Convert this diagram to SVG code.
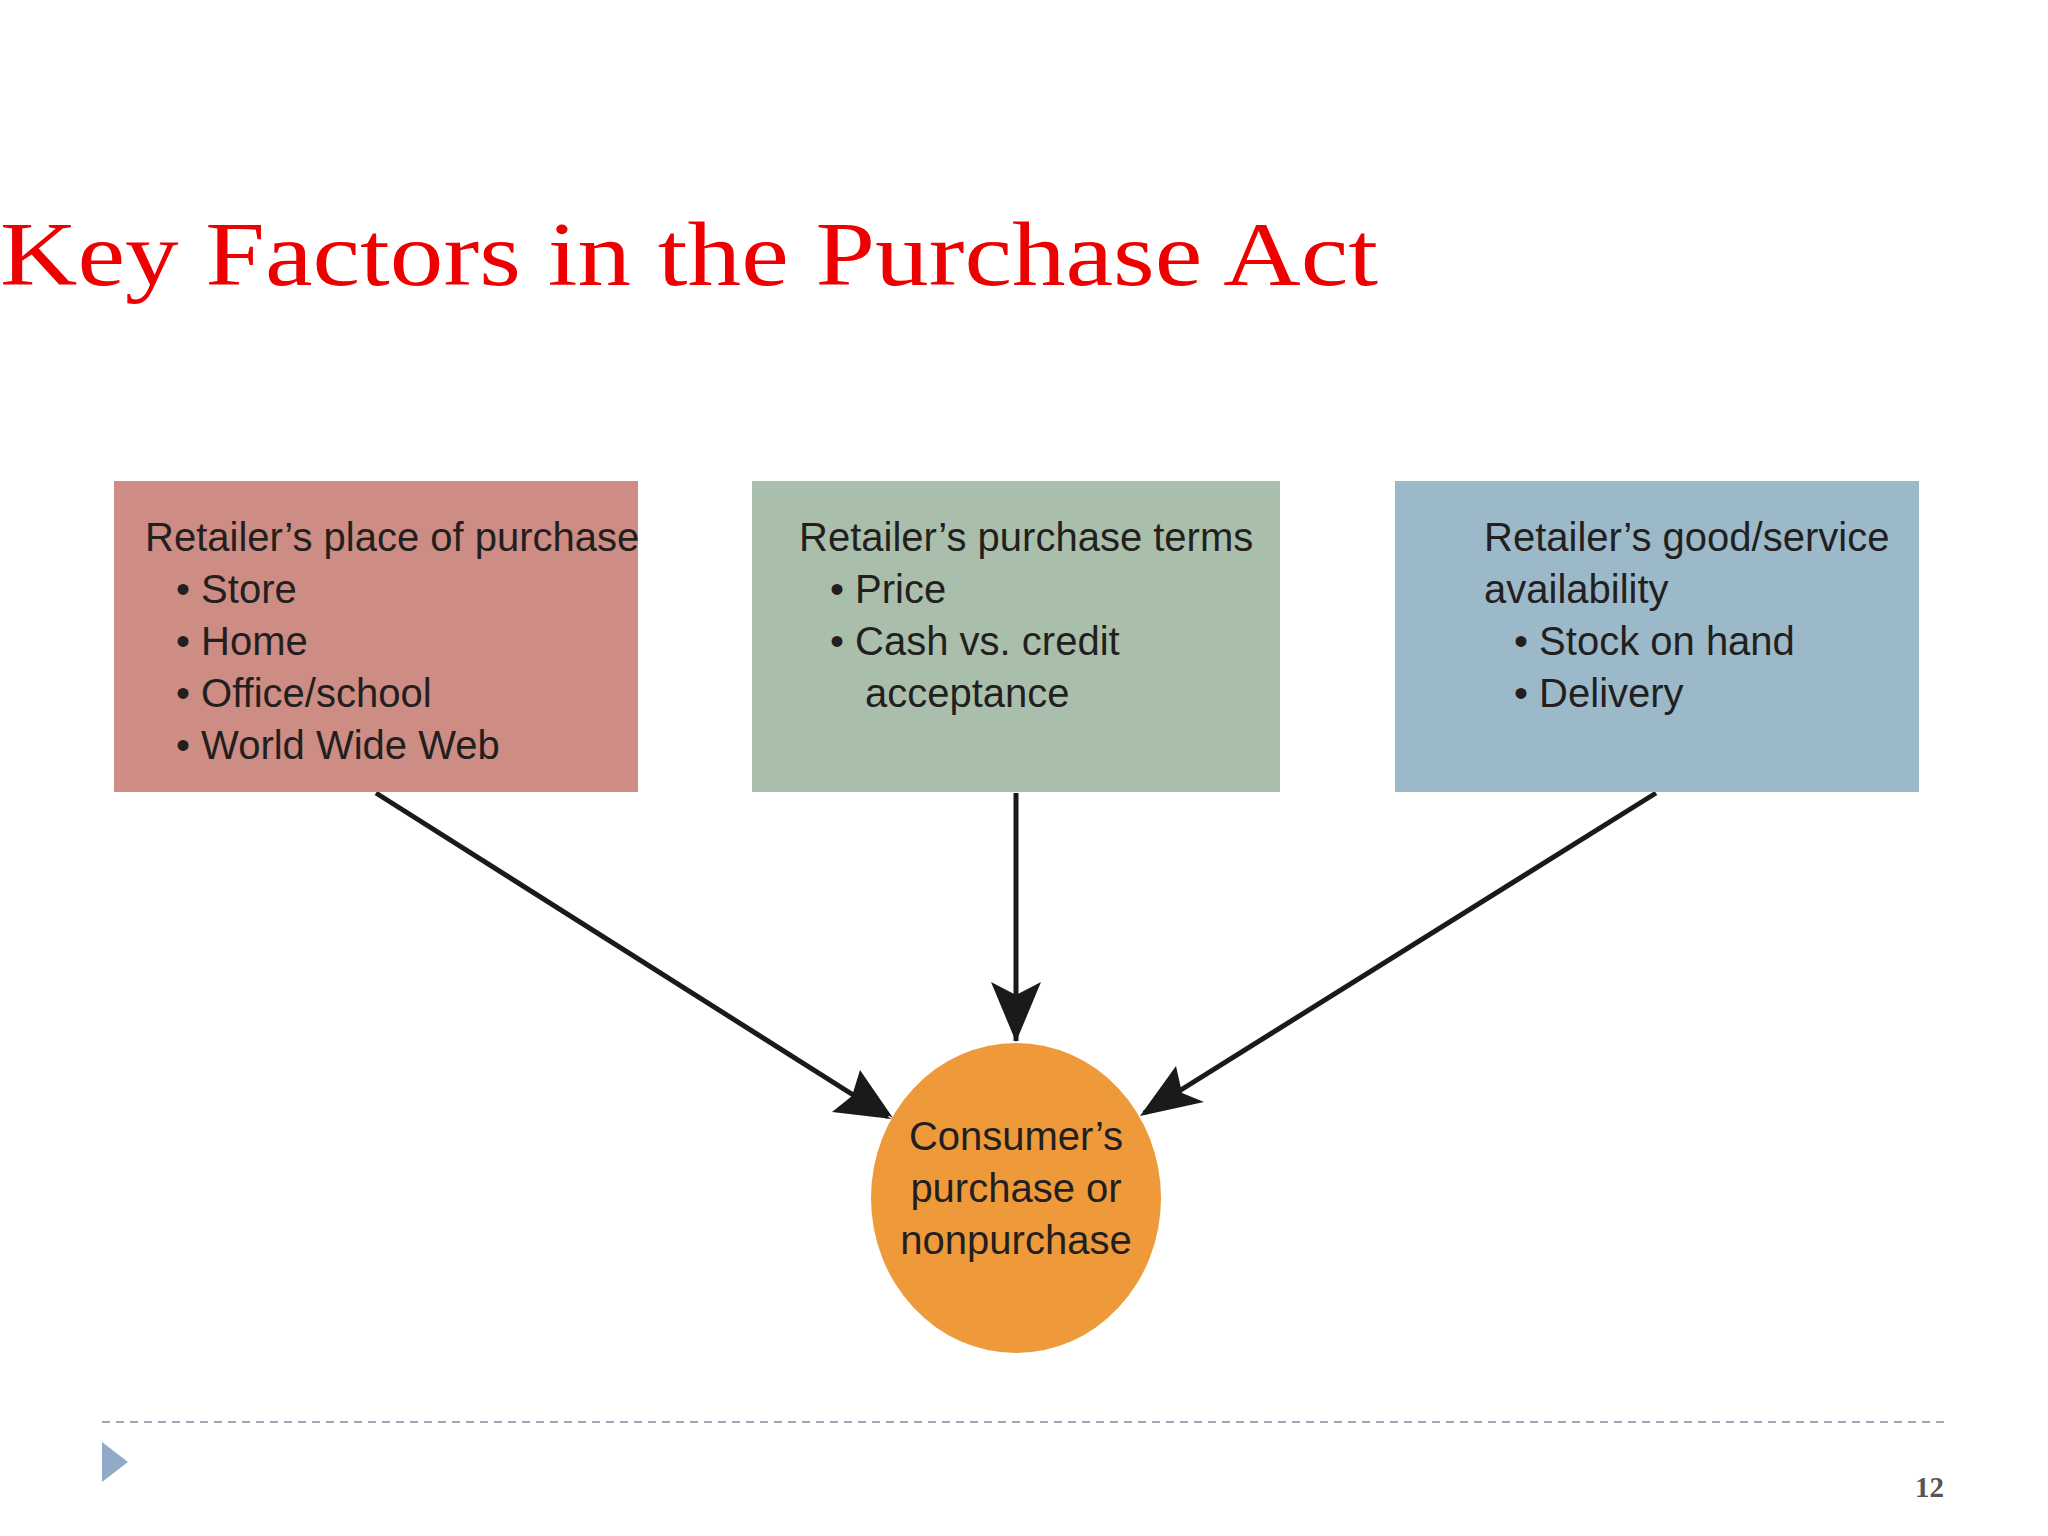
<svg xmlns="http://www.w3.org/2000/svg" width="2048" height="1536" viewBox="0 0 2048 1536">
<defs>
<style>
.t{font-family:"Liberation Sans","DejaVu Sans",sans-serif;font-size:40px;fill:#231f20}
.c{stroke:#1a1a1a;stroke-width:5;fill:none}
</style>
<marker id="ah" viewBox="0 0 20 20" refX="18" refY="10" markerWidth="12" markerHeight="12" markerUnits="userSpaceOnUse" orient="auto">
<path d="M0,0 L20,10 L0,20 L5,10 Z" fill="#1a1a1a"/>
</marker>
</defs>
<rect width="2048" height="1536" fill="#fff"/>
<text x="0" y="285" font-family="Liberation Serif,serif" font-size="90" fill="#ee0000" textLength="1378" lengthAdjust="spacingAndGlyphs">Key Factors in the Purchase Act</text>
<g id="connectors">
<line class="c" x1="376" y1="793" x2="888" y2="1117" marker-end="url(#ah)" style="marker-end:none"/>
<line class="c" x1="1016" y1="793" x2="1016" y2="1041"/>
<line class="c" x1="1656" y1="793" x2="1144" y2="1113"/>
<path d="M892,1119 L832,1112 L852,1096 Z M893,1118 L860,1070 L852,1096 Z" fill="#1a1a1a"/>
<path d="M1016,1042 L991,982 L1016,995 L1041,982 Z" fill="#1a1a1a"/>
<path d="M1140,1116 L1176,1066 L1182,1093 L1204,1102 Z" fill="#1a1a1a"/>
</g>
<g id="place">
<rect x="114" y="481" width="524" height="311" fill="#cd8c84"/>
<text class="t" x="145" y="551">Retailer’s place of purchase</text>
<text class="t" x="176" y="603">• Store</text>
<text class="t" x="176" y="655">• Home</text>
<text class="t" x="176" y="707">• Office/school</text>
<text class="t" x="176" y="759">• World Wide Web</text>
</g>
<g id="terms">
<rect x="752" y="481" width="528" height="311" fill="#aabfab"/>
<text class="t" x="799" y="551">Retailer’s purchase terms</text>
<text class="t" x="830" y="603">• Price</text>
<text class="t" x="830" y="655">• Cash vs. credit</text>
<text class="t" x="865" y="707">acceptance</text>
</g>
<g id="avail">
<rect x="1395" y="481" width="524" height="311" fill="#9bb9c9"/>
<text class="t" x="1484" y="551">Retailer’s good/service</text>
<text class="t" x="1484" y="603">availability</text>
<text class="t" x="1514" y="655">• Stock on hand</text>
<text class="t" x="1514" y="707">• Delivery</text>
</g>
<g id="consumer">
<ellipse cx="1016" cy="1198" rx="145" ry="155" fill="#ee9a3a"/>
<text class="t" x="1016" y="1150" text-anchor="middle">Consumer’s</text>
<text class="t" x="1016" y="1202" text-anchor="middle">purchase or</text>
<text class="t" x="1016" y="1254" text-anchor="middle">nonpurchase</text>
</g>
<line x1="102" y1="1422" x2="1946" y2="1422" stroke="#9aaabd" stroke-width="2" stroke-dasharray="8,6"/>
<path d="M102,1442 L128,1462 L102,1482 Z" fill="#93a9c8"/>
<text x="1944" y="1497" text-anchor="end" font-family="Liberation Serif,serif" font-weight="bold" font-size="29" fill="#555">12</text>
</svg>
